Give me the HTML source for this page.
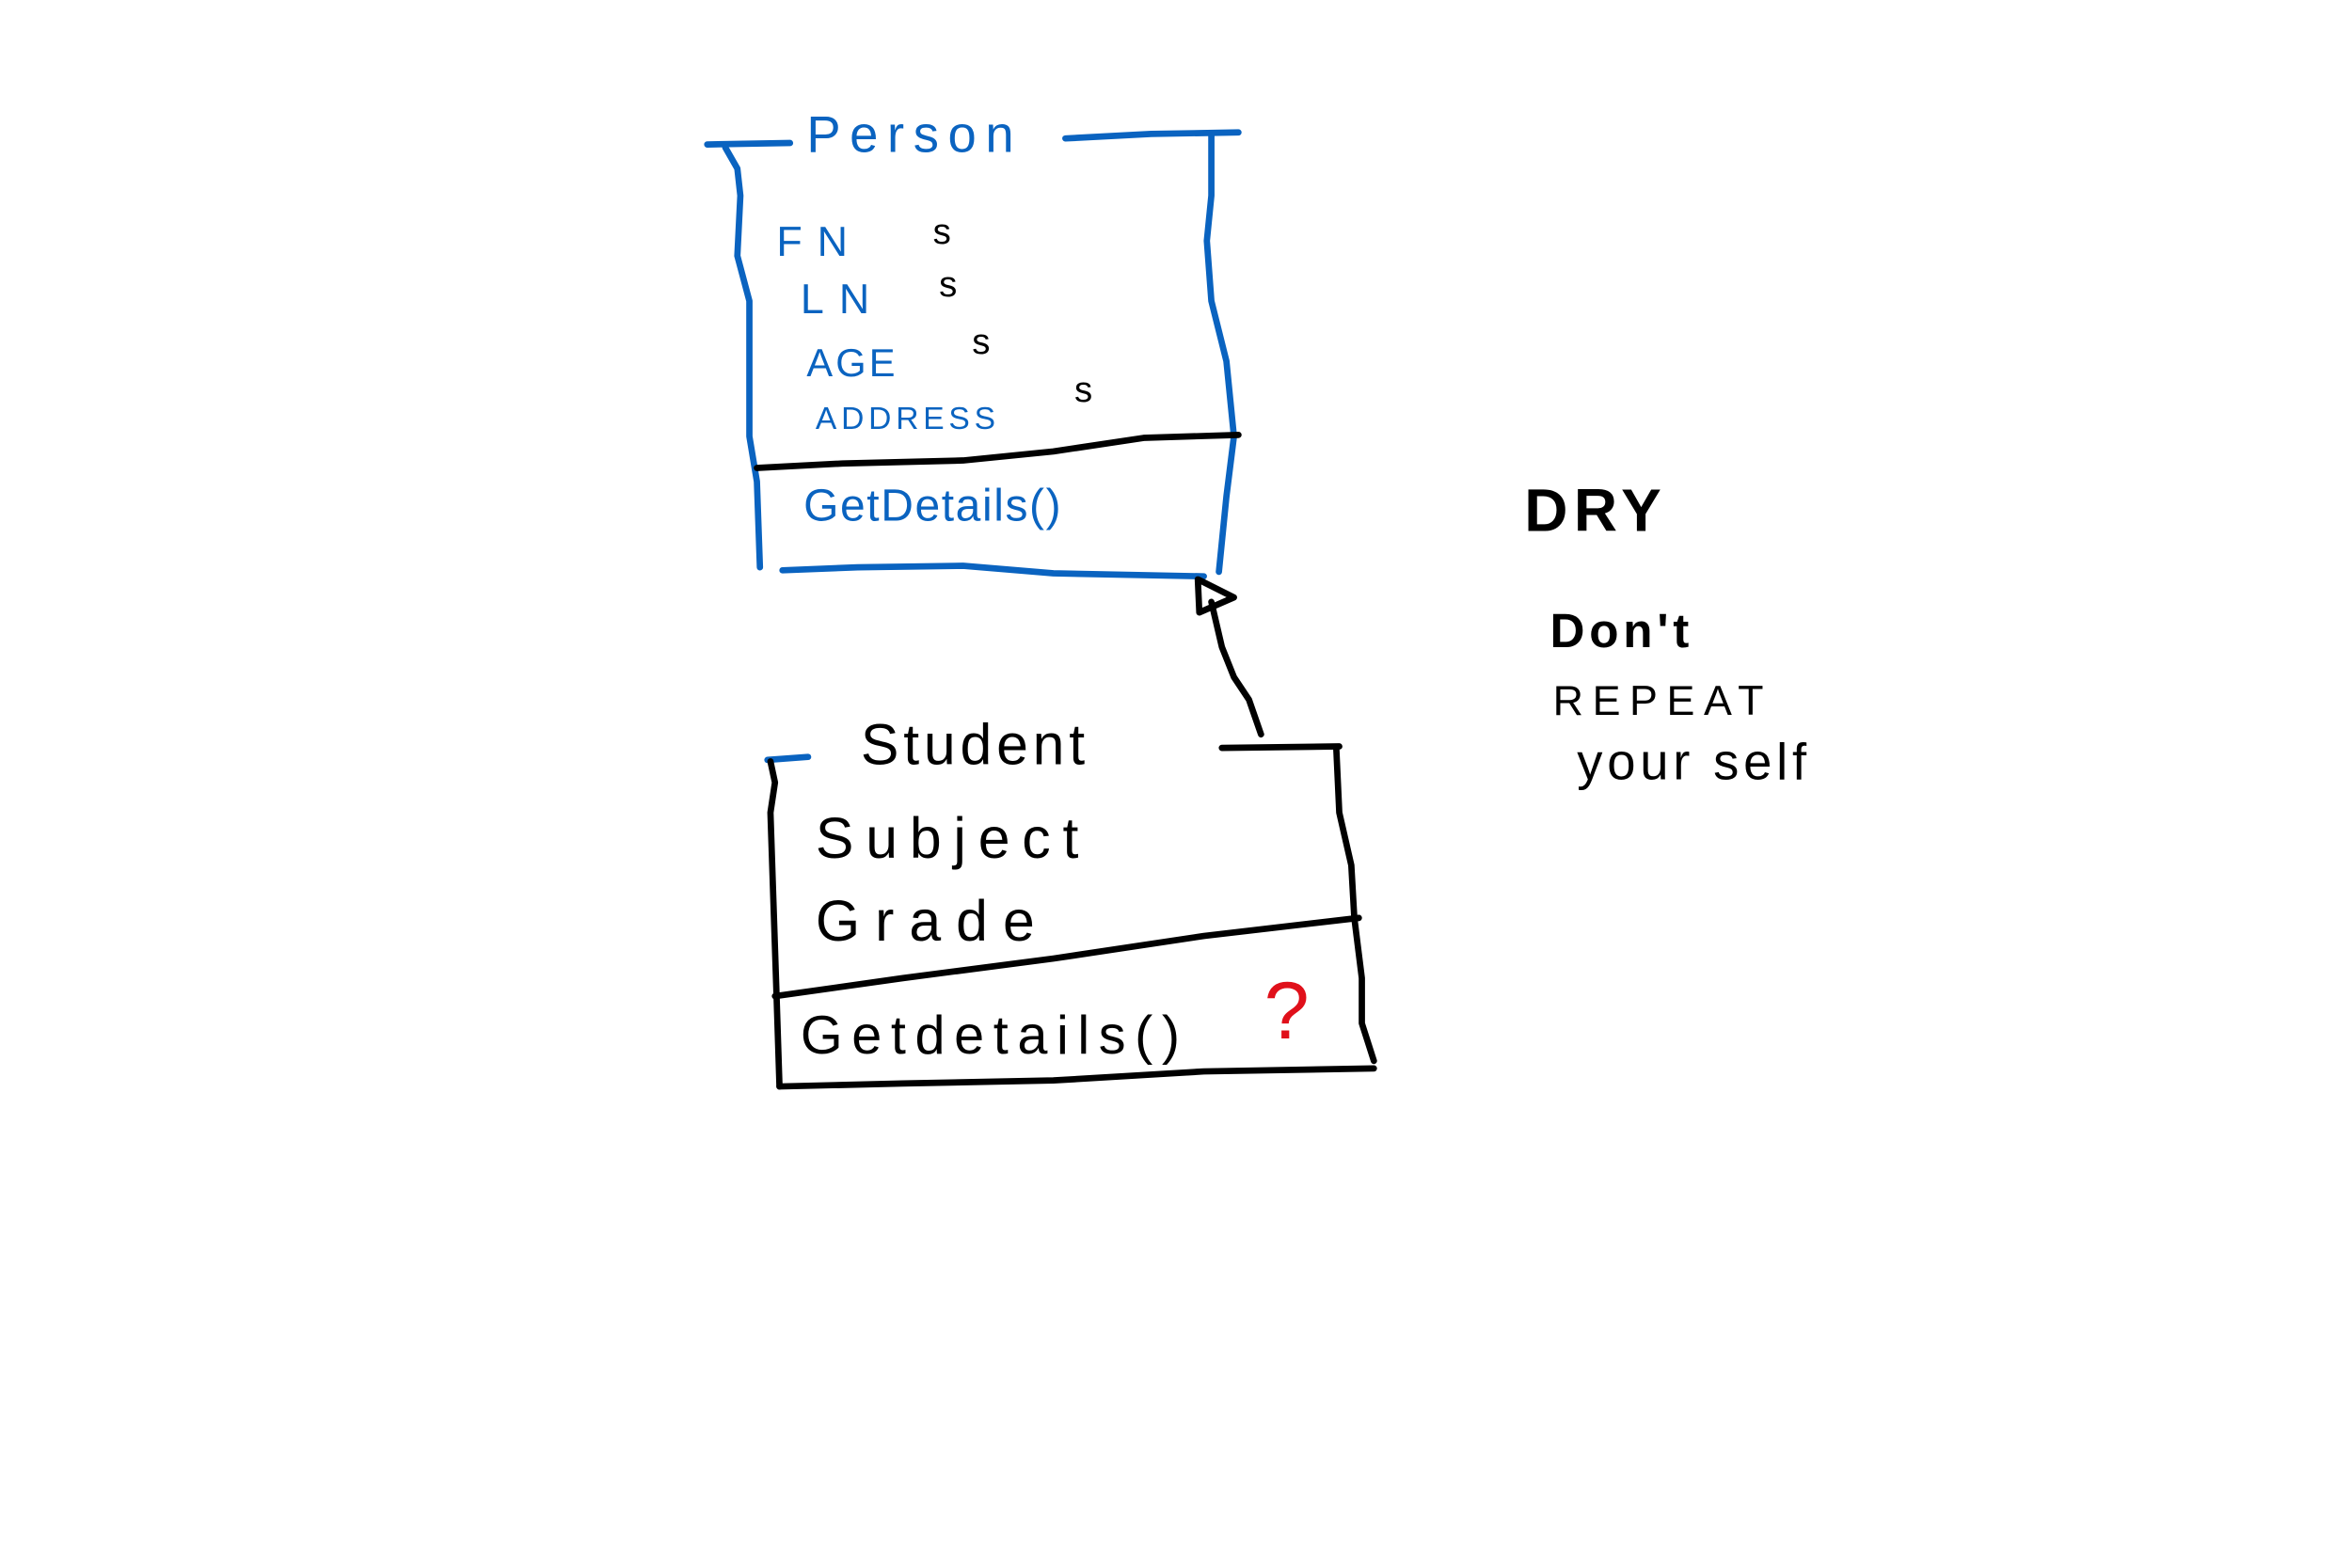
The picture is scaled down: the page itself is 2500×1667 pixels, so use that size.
<!DOCTYPE html>
<html><head><meta charset="utf-8"><style>
html,body{margin:0;padding:0;background:#fff;}
svg{display:block;}
.b{fill:none;stroke:#0a63c0;stroke-width:4.2;stroke-linecap:round;stroke-linejoin:round;}
.k{fill:none;stroke:#000;stroke-width:4.2;stroke-linecap:round;stroke-linejoin:round;}
.tb{fill:#0a63c0;font-family:"Liberation Sans",sans-serif;}
.tk{fill:#000;font-family:"Liberation Sans",sans-serif;}
</style></head><body>
<svg width="2500" height="1667" viewBox="0 0 1563 1042" preserveAspectRatio="none">
<g>
<path class="b" d="M470,96 L525,95"/>
<path class="b" d="M708,92 L765,89 L823,88"/>
<path class="b" d="M482,98 L490,112 L492,130 L490,170 L498,200 L498,290 L503,320 L505,377"/>
<path class="b" d="M805,90 L805,130 L802,160 L805,200 L815,240 L820,290 L815,330 L810,380"/>
<path class="b" d="M520,379 L570,377 L640,376 L700,381 L800,383"/>
<path class="k" d="M503,311 L560,308 L640,306 L700,300 L760,291 L823,289"/>
<text class="tb" x="536" y="101" font-size="34" letter-spacing="6">Person</text>
<text class="tb" x="516" y="170" font-size="28" letter-spacing="10">FN</text>
<text class="tb" x="532" y="208" font-size="28" letter-spacing="10">LN</text>
<text class="tb" x="536" y="250" font-size="26" letter-spacing="2">AGE</text>
<text class="tb" x="542" y="285" font-size="21" letter-spacing="3">ADDRESS</text>
<text class="tk" x="620" y="162" font-size="24">s</text>
<text class="tk" x="624" y="197" font-size="24">s</text>
<text class="tk" x="646" y="235" font-size="24">s</text>
<text class="tk" x="714" y="267" font-size="24">s</text>
<text class="tb" x="534" y="346" font-size="30" letter-spacing="1">GetDetails()</text>
</g>
<g>
<path class="k" d="M838,488 L830,465 L820,450 L812,430 L805,400"/>
<path class="k" d="M797,407 L796,385 L820,397 Z"/>
</g>
<g>
<path class="b" d="M510,505 L537,503"/>
<path class="k" d="M812,497 L890,496"/>
<path class="k" d="M512,506 L515,520 L512,540 L514,600 L516,660 L518,722"/>
<path class="k" d="M888,497 L890,540 L898,575 L900,610 L905,650 L905,680 L913,705"/>
<path class="k" d="M515,662 L600,650 L700,637 L800,622 L903,610"/>
<path class="k" d="M518,722 L600,720 L700,718 L800,712 L913,710"/>
<text class="tk" x="572" y="508" font-size="38" letter-spacing="3">Student</text>
<text class="tk" x="542" y="570" font-size="38" letter-spacing="8">Subject</text>
<text class="tk" x="542" y="625" font-size="38" letter-spacing="10">Grade</text>
<text class="tk" x="532" y="700" font-size="36" letter-spacing="6">Getdetails()</text>
<text x="840" y="690" font-size="54" fill="#e0101a" font-family="Liberation Sans,sans-serif">?</text>
</g>
<g>
<text class="tk" x="1013" y="353" font-size="40" letter-spacing="4" font-weight="bold">DRY</text>
<text class="tk" x="1030" y="430" font-size="32" letter-spacing="3" font-weight="bold">Don't</text>
<text class="tk" x="1032" y="475" font-size="28" letter-spacing="6">REPEAT</text>
<text class="tk" x="1048" y="518" font-size="34" letter-spacing="3">your self</text>
</g>
</svg>
</body></html>
